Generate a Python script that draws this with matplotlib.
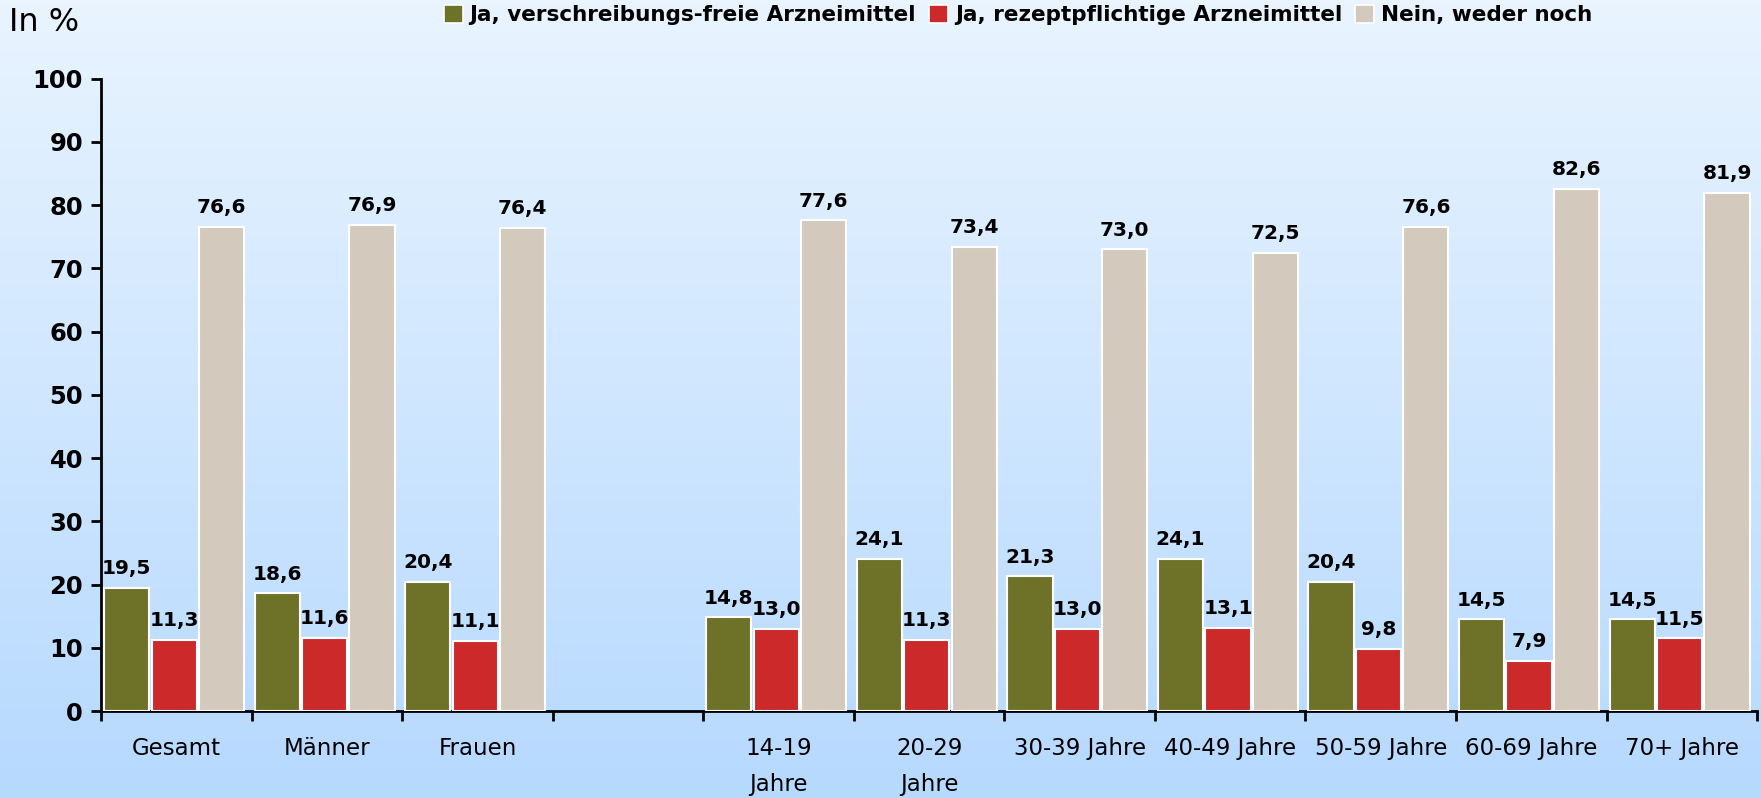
import matplotlib.pyplot as plt
import numpy as np
from matplotlib.patches import Patch

# data
categories = ["Gesamt", "Männer", "Frauen", "", "14-19\nJahre", "20-29\nJahre",
              "30-39 Jahre", "40-49 Jahre", "50-59 Jahre", "60-69 Jahre", "70+ Jahre"]
otc = [19.5, 18.6, 20.4, None, 14.8, 24.1, 21.3, 24.1, 20.4, 14.5, 14.5]
rx = [11.3, 11.6, 11.1, None, 13.0, 11.3, 13.0, 13.1, 9.8, 7.9, 11.5]
neither = [76.6, 76.9, 76.4, None, 77.6, 73.4, 73.0, 72.5, 76.6, 82.6, 81.9]
series_names = ["Ja, verschreibungs-freie Arzneimittel",
                "Ja, rezeptpflichtige Arzneimittel",
                "Nein, weder noch"]
colors = ["#6E7228", "#CC2A2A", "#D3CABD"]

fig = plt.figure(figsize=(17.61, 7.98), dpi=100)

# background gradient
bg = fig.add_axes([0, 0, 1, 1], zorder=-10)
grad = np.linspace(0, 1, 256).reshape(-1, 1)
top = np.array([233, 244, 254]) / 255
bot = np.array([182, 217, 254]) / 255
img = top + (bot - top) * grad[:, :, None]
bg.imshow(img, aspect="auto", extent=[0, 1, 0, 1])
bg.axis("off")

ax = fig.add_axes([0.0574, 0.109, 0.9404, 0.7925])
ax.patch.set_alpha(0)

offsets = [0.17, 0.485, 0.80]
width = 0.30
for s, (vals, col, off) in enumerate(zip([otc, rx, neither], colors, offsets)):
    for i, v in enumerate(vals):
        if v is None:
            continue
        ax.bar(i + off, v, width=width, color=col, edgecolor="white", linewidth=1.5, zorder=3)
        ax.annotate(f"{v:.1f}".replace(".", ","), (i + off, v), xytext=(0, 7),
                    textcoords="offset points", ha="center", va="bottom",
                    fontsize=14.5, fontweight="bold", zorder=4)

ax.set_xlim(0, 11)
ax.set_ylim(0, 100)
ax.set_yticks(range(0, 101, 10))
ax.tick_params(axis="y", labelsize=17.5, width=2, length=7, direction="out", pad=6)
for lab in ax.get_yticklabels():
    lab.set_fontweight("bold")

ax.set_xticks(np.arange(0, 12))
ax.set_xticklabels([])
ax.tick_params(axis="x", which="major", width=2, length=7, direction="out")
ax.set_xticks(np.arange(11) + 0.5, minor=True)
ax.set_xticklabels(categories, minor=True, fontsize=16.5, linespacing=1.7, va="top")
ax.tick_params(axis="x", which="minor", length=0, pad=19)

for sp in ["top", "right"]:
    ax.spines[sp].set_visible(False)
for sp in ["left", "bottom"]:
    ax.spines[sp].set_linewidth(2)

fig.text(0.005, 0.972, "In %", fontsize=23, va="center", ha="left")

handles = [Patch(facecolor=c, edgecolor="white", linewidth=1.2) for c in colors]
leg = fig.legend(handles, series_names, loc="center", bbox_to_anchor=(0.578, 0.981),
                 ncol=3, frameon=False, handlelength=0.9, handleheight=0.9,
                 handletextpad=0.3, columnspacing=0.6,
                 prop={"weight": "bold", "size": 15.5})

fig.savefig("out.png", dpi=100)
